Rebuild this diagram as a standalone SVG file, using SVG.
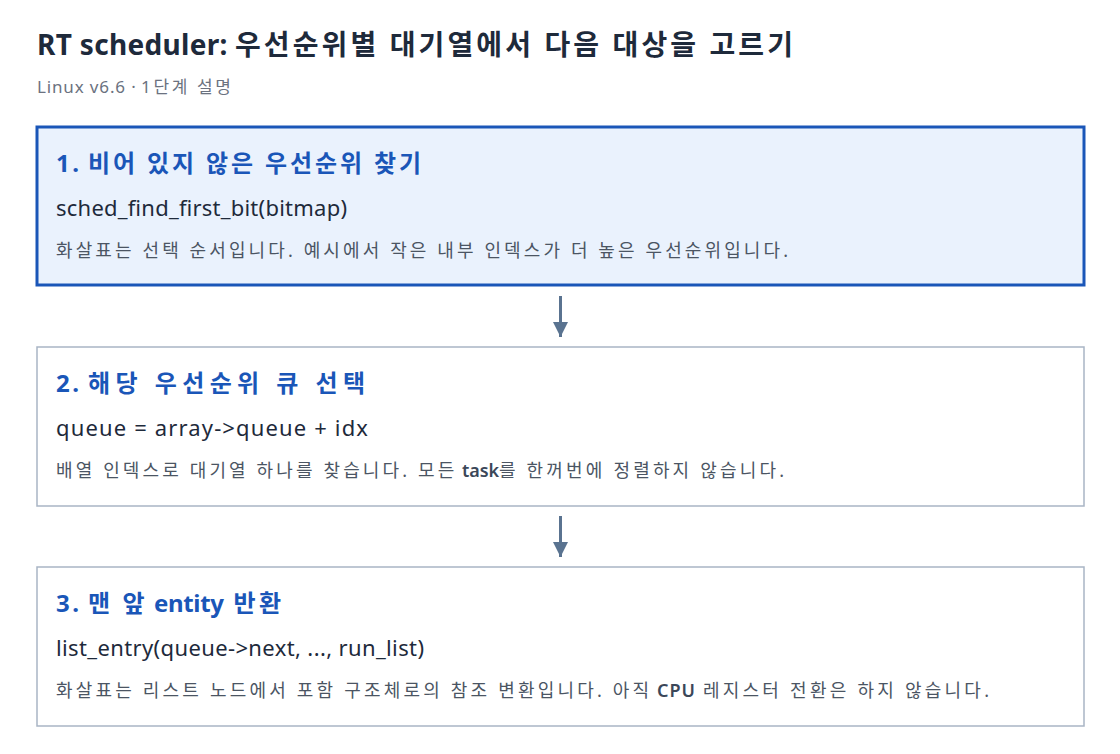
<svg xmlns="http://www.w3.org/2000/svg" width="1120" height="754" viewBox="0 0 1120 754">
<style>
text{font-family:"Noto Sans","Noto Sans CJK KR",sans-serif}
.title{font-size:28px;font-weight:700;fill:#1e2a3b}
.sub{font-size:17px;fill:#6b7280}
.h{font-size:24px;font-weight:700;fill:#1a56b8}
.code{font-size:22px;fill:#1e2a3b}
.desc{font-size:18px;fill:#4b5563}
.em{font-weight:600;fill:#3b4759}
.box{fill:#ffffff;stroke:#a9b5c5;stroke-width:1.5}
.active{fill:#eaf2fd;stroke:#1a56b8;stroke-width:3}
.conn{stroke:#5a7390;stroke-width:3;fill:none}
</style>
<defs>
<marker id="ah" viewBox="0 0 10 10" refX="10" refY="5" markerWidth="5" markerHeight="5" orient="auto" markerUnits="strokeWidth">
<path d="M0,0 L10,5 L0,10 z" fill="#5a7390"/>
</marker>
</defs>
<rect width="1120" height="754" fill="#ffffff"/>
<text class="title" y="55" xml:space="preserve"><tspan x="37" textLength="198" lengthAdjust="spacing">RT scheduler: </tspan><tspan x="235" textLength="558" lengthAdjust="spacing">우선순위별 대기열에서 다음 대상을 고르기</tspan></text>
<text class="sub" y="93" xml:space="preserve"><tspan x="37" textLength="104" lengthAdjust="spacing">Linux v6.6 · </tspan><tspan x="141" textLength="90" lengthAdjust="spacing">1단계 설명</tspan></text>
<g id="step1">
<rect class="active" x="37" y="127" width="1047" height="158"/>
<text class="h" y="172" xml:space="preserve"><tspan x="56" textLength="32" lengthAdjust="spacing">1. </tspan><tspan x="88" textLength="333" lengthAdjust="spacing">비어 있지 않은 우선순위 찾기</tspan></text>
<text class="code" x="56" y="216" textLength="291" lengthAdjust="spacing">sched_find_first_bit(bitmap)</text>
<text class="desc" x="56" y="257" textLength="732" lengthAdjust="spacing">화살표는 선택 순서입니다. 예시에서 작은 내부 인덱스가 더 높은 우선순위입니다.</text>
</g>
<g id="step2">
<rect class="box" x="37" y="347" width="1047" height="159"/>
<text class="h" y="392" xml:space="preserve"><tspan x="56" textLength="32" lengthAdjust="spacing">2. </tspan><tspan x="88" textLength="277" lengthAdjust="spacing">해당 우선순위 큐 선택</tspan></text>
<text class="code" x="56" y="436" textLength="312" lengthAdjust="spacing">queue = array-&gt;queue + idx</text>
<text class="desc" y="477" xml:space="preserve"><tspan x="56" textLength="406" lengthAdjust="spacing">배열 인덱스로 대기열 하나를 찾습니다. 모든 </tspan><tspan class="em" x="462" textLength="37" lengthAdjust="spacing">task</tspan><tspan x="499" textLength="285" lengthAdjust="spacing">를 한꺼번에 정렬하지 않습니다.</tspan></text>
</g>
<g id="step3">
<rect class="box" x="37" y="567" width="1047" height="159"/>
<text class="h" y="612" xml:space="preserve"><tspan x="56" textLength="32" lengthAdjust="spacing">3. </tspan><tspan x="88" textLength="66" lengthAdjust="spacing">맨 앞 </tspan><tspan x="154" textLength="70" lengthAdjust="spacing">entity</tspan><tspan x="224" textLength="57" lengthAdjust="spacing"> 반환</tspan></text>
<text class="code" x="56" y="656" textLength="368" lengthAdjust="spacing">list_entry(queue-&gt;next, ..., run_list)</text>
<text class="desc" y="697" xml:space="preserve"><tspan x="56" textLength="601" lengthAdjust="spacing">화살표는 리스트 노드에서 포함 구조체로의 참조 변환입니다. 아직 </tspan><tspan class="em" x="657" textLength="38" lengthAdjust="spacing">CPU</tspan><tspan x="695" textLength="294" lengthAdjust="spacing"> 레지스터 전환은 하지 않습니다.</tspan></text>
</g>
<g id="connectors">
<line class="conn" x1="560.5" y1="296" x2="560.5" y2="337" marker-end="url(#ah)"/>
<line class="conn" x1="560.5" y1="516" x2="560.5" y2="557" marker-end="url(#ah)"/>
</g>
</svg>
